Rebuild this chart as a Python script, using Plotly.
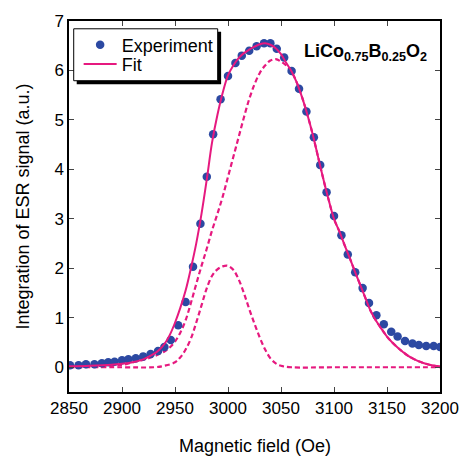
import plotly.graph_objects as go

# Experimental points (field in Oe, integrated ESR signal a.u.)
exp_field = [2851, 2859, 2866, 2874, 2881, 2887, 2893, 2900, 2906, 2913,
             2920, 2927, 2934, 2940, 2946, 2953, 2960, 2967, 2974, 2980,
             2986, 2993, 3000, 3007, 3013, 3020, 3027, 3034, 3040, 3046,
             3053, 3060, 3067, 3074, 3081, 3087, 3093, 3100, 3107, 3113,
             3120, 3127, 3133, 3140, 3147, 3154, 3160, 3167, 3174, 3180,
             3187, 3194, 3200]
exp_signal = [0.04, 0.04, 0.06, 0.06, 0.08, 0.10, 0.11, 0.14, 0.16, 0.18,
              0.22, 0.27, 0.33, 0.41, 0.55, 0.85, 1.32, 2.03, 2.90, 3.85,
              4.71, 5.42, 5.89, 6.15, 6.30, 6.40, 6.49, 6.55, 6.55, 6.44,
              6.26, 5.99, 5.63, 5.17, 4.65, 4.09, 3.54, 3.06, 2.67, 2.28,
              1.92, 1.60, 1.30, 1.05, 0.87, 0.72, 0.62, 0.53, 0.48, 0.45,
              0.43, 0.43, 0.41]

# Total fit curve
fit_field = [2850, 2870, 2890, 2900, 2910, 2920, 2930, 2935, 2940, 2945,
             2950, 2955, 2960, 2965, 2970, 2975, 2980, 2985, 2990, 2995,
             3000, 3005, 3010, 3015, 3020, 3025, 3030, 3035, 3040, 3045,
             3050, 3055, 3060, 3065, 3070, 3075, 3080, 3085, 3090, 3095,
             3100, 3105, 3110, 3115, 3120, 3125, 3130, 3135, 3140, 3145,
             3150, 3155, 3160, 3165, 3170, 3175, 3180, 3185, 3190, 3195, 3200]
fit_signal = [0.02, 0.03, 0.05, 0.07, 0.10, 0.16, 0.27, 0.35, 0.47, 0.65,
              0.90, 1.20, 1.55, 2.00, 2.50, 3.10, 3.80, 4.55, 5.10, 5.55,
              5.90, 6.10, 6.25, 6.35, 6.42, 6.48, 6.53, 6.55, 6.52, 6.45,
              6.33, 6.15, 5.98, 5.75, 5.45, 5.10, 4.70, 4.25, 3.80, 3.38,
              3.00, 2.75, 2.47, 2.20, 1.92, 1.65, 1.38, 1.12, 0.93, 0.77,
              0.62, 0.50, 0.40, 0.31, 0.23, 0.17, 0.12, 0.08, 0.05, 0.03, 0.02]

# Broad component (dashed)
broad_field = [2850, 2900, 2910, 2920, 2930, 2940, 2945, 2950, 2955, 2960,
               2965, 2970, 2975, 2980, 2985, 2990, 2995, 3000, 3005, 3010,
               3015, 3020, 3025, 3030, 3035, 3040, 3045, 3050, 3055, 3060,
               3065, 3070, 3075, 3080, 3085, 3090, 3095, 3100, 3105, 3110,
               3115, 3120, 3125, 3130, 3135, 3140, 3145, 3150, 3155, 3160,
               3165, 3170, 3175, 3180, 3185, 3190, 3195, 3200]
broad_signal = [0.00, 0.05, 0.10, 0.15, 0.22, 0.32, 0.40, 0.52, 0.70, 0.95,
                1.30, 1.68, 2.05, 2.40, 2.77, 3.10, 3.45, 3.85, 4.25, 4.65,
                5.05, 5.42, 5.72, 5.95, 6.10, 6.20, 6.23, 6.18, 6.10, 5.97,
                5.75, 5.45, 5.10, 4.70, 4.25, 3.80, 3.38, 3.00, 2.75, 2.47,
                2.20, 1.92, 1.65, 1.38, 1.12, 0.93, 0.77, 0.62, 0.50, 0.40,
                0.31, 0.23, 0.17, 0.12, 0.08, 0.05, 0.03, 0.02]

# Narrow component (dashed)
narrow_field = [2850, 2900, 2930, 2940, 2950, 2955, 2960, 2965, 2970, 2975,
                2980, 2985, 2990, 2995, 3000, 3005, 3010, 3015, 3020, 3025,
                3030, 3035, 3040, 3045, 3050, 3060, 3100, 3200]
narrow_signal = [0.00, 0.00, 0.00, 0.03, 0.10, 0.20, 0.36, 0.58, 0.90, 1.25,
                 1.60, 1.85, 1.98, 2.04, 2.05, 1.97, 1.78, 1.50, 1.18, 0.88,
                 0.60, 0.36, 0.18, 0.08, 0.03, 0.00, 0.00, 0.00]

x_ticks = [2850, 2900, 2950, 3000, 3050, 3100, 3150, 3200]
y_ticks = [0, 1, 2, 3, 4, 5, 6, 7]

PINK = "#E6197F"
BLUE = "#2C49A2"
FONT = "Liberation Sans, Arial, sans-serif"

fig = go.Figure()
fig.add_trace(go.Scatter(x=broad_field, y=broad_signal, mode="lines",
                         line=dict(color=PINK, width=2.2, dash="5px,3px", shape="spline"),
                         showlegend=False, hoverinfo="skip"))
fig.add_trace(go.Scatter(x=narrow_field, y=narrow_signal, mode="lines",
                         line=dict(color=PINK, width=2.2, dash="5px,3px", shape="spline"),
                         showlegend=False, hoverinfo="skip"))
fig.add_trace(go.Scatter(x=exp_field, y=exp_signal, mode="markers", name="Experiment",
                         marker=dict(color=BLUE, size=8.5, line=dict(width=0)),
                         legend="legend"))
fig.add_trace(go.Scatter(x=fit_field, y=fit_signal, mode="lines", name="Fit",
                         line=dict(color=PINK, width=2, shape="spline"),
                         legend="legend2"))

leg_common = dict(xanchor="left", yanchor="top", bgcolor="rgba(0,0,0,0)",
                  borderwidth=0, font=dict(size=18), itemwidth=33)

fig.update_layout(
    width=462, height=456,
    margin=dict(l=69, r=22, t=21, b=64, autoexpand=False),
    paper_bgcolor="white", plot_bgcolor="white",
    font=dict(family=FONT, size=17, color="black"),
    showlegend=True,
    legend=dict(x=0.026, y=0.985, **leg_common),
    legend2=dict(x=0.026, y=0.933, **leg_common),
    shapes=[
        dict(type="rect", xref="paper", yref="paper",
             x0=0.0208, x1=0.410, y0=0.8295, y1=0.971,
             fillcolor="black", line=dict(width=0), layer="above"),
        dict(type="rect", xref="paper", yref="paper",
             x0=0.0127, x1=0.4008, y0=0.839, y1=0.979,
             fillcolor="white", line=dict(color="black", width=1), layer="above"),
    ],
    annotations=[
        dict(text="<b>LiCo<sub>0.75</sub>B<sub>0.25</sub>O<sub>2</sub></b>",
             x=0.97, y=0.915, xref="paper", yref="paper",
             xanchor="right", yanchor="middle", showarrow=False,
             font=dict(size=18)),
        dict(text="Magnetic field (Oe)", x=0.5, y=-0.146, xref="paper", yref="paper",
             xanchor="center", yanchor="middle", showarrow=False,
             font=dict(size=18)),
    ],
)
fig.update_xaxes(range=[2850, 3200], tickvals=x_ticks, ticks="inside", ticklen=5,
                 showline=True, linecolor="black", linewidth=1.5, mirror="ticks",
                 showgrid=False, zeroline=False, automargin=False)
fig.update_yaxes(range=[-0.5, 7], tickvals=y_ticks, ticks="inside", ticklen=5,
                 showline=True, linecolor="black", linewidth=1.5, mirror="ticks",
                 showgrid=False, zeroline=False, automargin=True,
                 title=dict(text="Integration of ESR signal (a.u.)", font=dict(size=18), standoff=20))

fig.write_html("out.html", config={"displayModeBar": False},
               post_script="document.body.style.margin='0';")
